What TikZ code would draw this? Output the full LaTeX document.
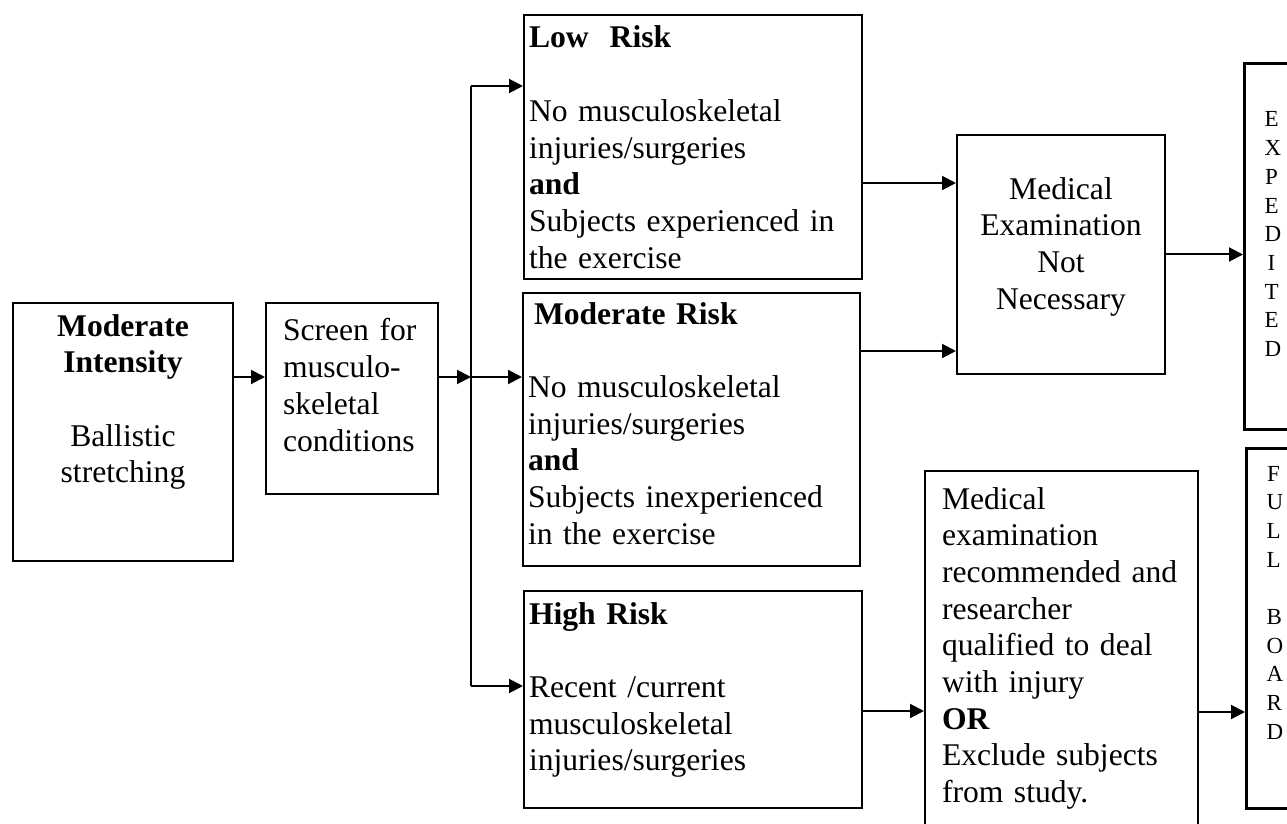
\documentclass[tikz,border=0pt]{standalone}
\usepackage{fontspec}
\setmainfont{Liberation Serif}
\usetikzlibrary{arrows.meta}
\tikzstyle{panel} = [
    rectangle,
    draw=black,
    line width=1pt,
    anchor=north west,
    inner xsep=2.5pt,
    inner ysep=0pt,
    font=\fontsize{15.8pt}{18.35pt}\selectfont
]
\tikzstyle{tag} = [
    rectangle,
    draw=black,
    line width=1.5pt,
    anchor=north west,
    inner xsep=10pt,
    inner ysep=0pt,
    text width=7pt,
    align=center,
    font=\fontsize{11.5pt}{14.35pt}\selectfont
]
\tikzstyle{flow} = [
    line width=1pt,
    -{Triangle[length=7pt,width=7pt]}
]
\begin{document}
\begin{tikzpicture}[x=0.5pt, y=-0.5pt]
    \useasboundingbox (0,0) rectangle (1287,824);

    \node[panel, align=center, text width=105pt, text height=16.5pt, text depth=112.5pt] (intensity) at (12,302)
        {\textbf{Moderate}\\\textbf{Intensity}\\[18.35pt]Ballistic\\stretching};
    \node[panel, inner xsep=8.5pt, align=left, text width=69pt, text height=19pt, text depth=76.5pt] (screen) at (265,302)
        {Screen for\\musculo-\\skeletal\\conditions};

    \node[panel, align=left, text width=164pt, text height=16.5pt, text depth=115.5pt] (low) at (523,14)
        {\textbf{Low\ \ Risk}\\[18.35pt]No musculoskeletal\\injuries/surgeries\\\textbf{and}\\Subjects experienced in\\the exercise};
    \node[panel, align=left, text width=163.5pt, text height=15.5pt, text depth=121pt] (moderate) at (522,292)
        {\hspace*{3pt}\textbf{Moderate Risk}\\[18.35pt]No musculoskeletal\\injuries/surgeries\\\textbf{and}\\Subjects inexperienced\\in the exercise};
    \node[panel, align=left, text width=164pt, text height=16.5pt, text depth=92pt] (high) at (523,590)
        {\textbf{High Risk}\\[18.35pt]Recent /current\\musculoskeletal\\injuries/surgeries};

    \node[panel, align=center, text width=99pt, text height=32pt, text depth=87.5pt] (mednn) at (956,134)
        {Medical\\Examination\\Not\\Necessary};
    \node[panel, inner xsep=8.5pt, align=left, text width=119.5pt, text height=19pt, text depth=163.5pt] (medrec) at (924,470)
        {Medical\\examination\\recommended and\\researcher\\qualified to deal\\with injury\\\textbf{OR}\\Exclude subjects\\from study.};

    \node[tag, text height=31.75pt, text depth=151.25pt] (expedited) at (1243,62)
        {E\\X\\P\\E\\D\\I\\T\\E\\D};
    \node[tag, text height=16.25pt, text depth=163.75pt] (fullboard) at (1245,447)
        {F\\U\\L\\L\\[14.35pt]B\\O\\A\\R\\D};

    \coordinate (split) at (471,377);
    \coordinate (splittop) at (471,86);
    \coordinate (splitbot) at (471,686);

    \draw[flow] (intensity.east |- split) -- (screen.west |- split);
    \draw[flow] (screen.east |- split) -- (split);
    \draw[line width=0.9pt] (splittop) -- (splitbot);
    \draw[flow] (splittop) -- (low.west |- splittop);
    \draw[flow] (split) -- (moderate.west |- split);
    \draw[flow] (splitbot) -- (high.west |- splitbot);

    \draw[flow] ([yshift=-18pt]low.east) -- ([yshift=-18pt]low.east -| mednn.west);
    \draw[flow] ([yshift=39.25pt]moderate.east) -- ([yshift=39.25pt]moderate.east -| mednn.west);
    \draw[flow] (mednn.east) -- (mednn.east -| expedited.west);
    \draw[flow] ([yshift=-5.75pt]high.east) -- ([yshift=-5.75pt]high.east -| medrec.west);
    \draw[flow] ([yshift=-29.25pt]medrec.east) -- ([yshift=-29.25pt]medrec.east -| fullboard.west);
\end{tikzpicture}
\end{document}
